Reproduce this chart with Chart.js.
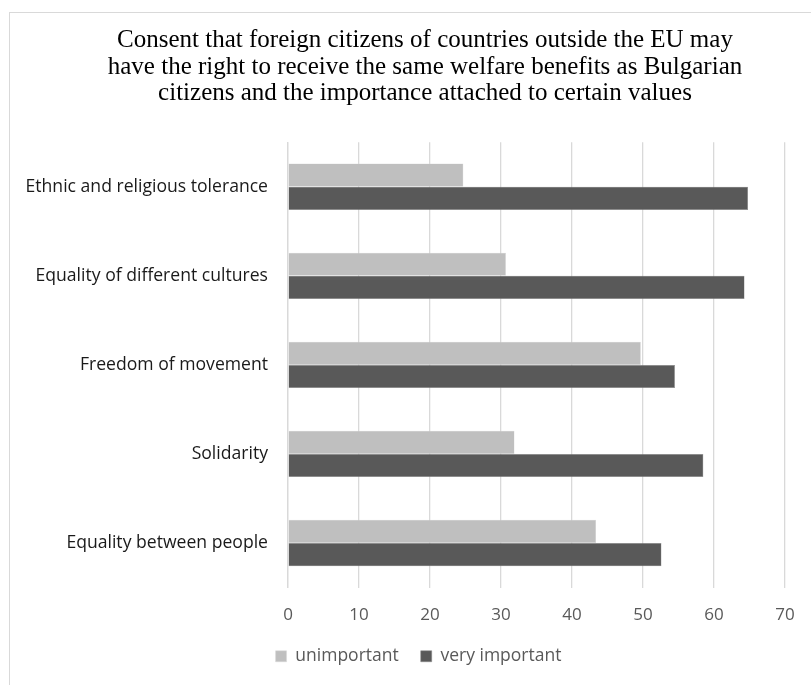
<!DOCTYPE html>
<html>
<head>
<meta charset="utf-8">
<script src="https://cdn.jsdelivr.net/npm/chart.js@4.4.1/dist/chart.umd.min.js"></script>
<style>
  html, body { margin: 0; padding: 0; background: #ffffff; overflow: hidden; }
  #frame { position: absolute; left: 9px; top: 12px; width: 900px; height: 800px; border: 1px solid #d9d9d9; box-sizing: border-box; }
  #wrap { position: absolute; left: 0; top: 0; width: 841px; height: 685px; }
</style>
</head>
<body>
<div id="frame"></div>
<div id="wrap"><canvas id="c" width="841" height="685"></canvas></div>
<script>
const titleLines = [
  "Consent that foreign citizens of countries outside the EU may",
  "have the right to receive the same welfare benefits as Bulgarian",
  "citizens and the importance attached to certain values"
];
const categories = [
  "Ethnic and religious tolerance",
  "Equality of different cultures",
  "Freedom of movement",
  "Solidarity",
  "Equality between people"
];
const seriesNames = ["unimportant", "very important"];
const unimportant = [24.7, 30.7, 49.7, 31.9, 43.4];
const veryImportant = [64.8, 64.3, 54.5, 58.5, 52.6];
const xTicks = [0, 10, 20, 30, 40, 50, 60, 70];

const labelFont = "'Open Sans', Calibri, Lato, sans-serif";
const textColor = "#595959";

// Centre the title and legend on the outer chart frame rather than on the canvas box.
const frameCentre = {
  id: "frameCentre",
  afterLayout(chart) {
    if (chart.titleBlock) { chart.titleBlock.left = 65; }
    if (chart.legend) { chart.legend.left = 52; }
  }
};

new Chart(document.getElementById("c"), {
  type: "bar",
  data: {
    labels: categories,
    datasets: [
      { label: seriesNames[0], data: unimportant, backgroundColor: "#bfbfbf", borderColor: "#d9d9d9", borderWidth: 0.5 },
      { label: seriesNames[1], data: veryImportant, backgroundColor: "#595959", borderColor: "#8a8a8a", borderWidth: 0.5 }
    ]
  },
  plugins: [frameCentre],
  options: {
    indexAxis: "y",
    responsive: false,
    animation: false,
    devicePixelRatio: 1,
    datasets: { bar: { categoryPercentage: 0.52, barPercentage: 1.0 } },
    layout: { padding: { left: 0, right: 56, top: 0, bottom: 10 } },
    plugins: {
      title: {
        display: true,
        text: titleLines,
        color: "#000000",
        font: { family: "'Liberation Serif', 'Times New Roman', serif", size: 25, weight: "normal", lineHeight: 1.07 },
        padding: { top: 27, bottom: 35 }
      },
      legend: {
        position: "bottom",
        labels: {
          color: textColor,
          font: { family: labelFont, size: 17.5 },
          boxWidth: 11,
          boxHeight: 11,
          padding: 22
        }
      },
      tooltip: { enabled: false }
    },
    scales: {
      x: {
        min: 0,
        max: 70,
        afterBuildTicks: (axis) => { axis.ticks = xTicks.map(v => ({ value: v })); },
        afterFit: (axis) => { axis.height = 38; },
        ticks: { color: textColor, font: { family: labelFont, size: 17 }, padding: 17.5 },
        grid: { color: "#d9d9d9", lineWidth: 1.3, drawTicks: false },
        border: { display: false }
      },
      y: {
        afterFit: (axis) => { axis.width = 288; },
        ticks: { color: "#1a1a1a", font: { family: labelFont, size: 17.6 }, padding: 20 },
        grid: { display: false, drawTicks: false },
        border: { display: true, color: "#d9d9d9", width: 1.3 }
      }
    }
  }
});
</script>
</body>
</html>
